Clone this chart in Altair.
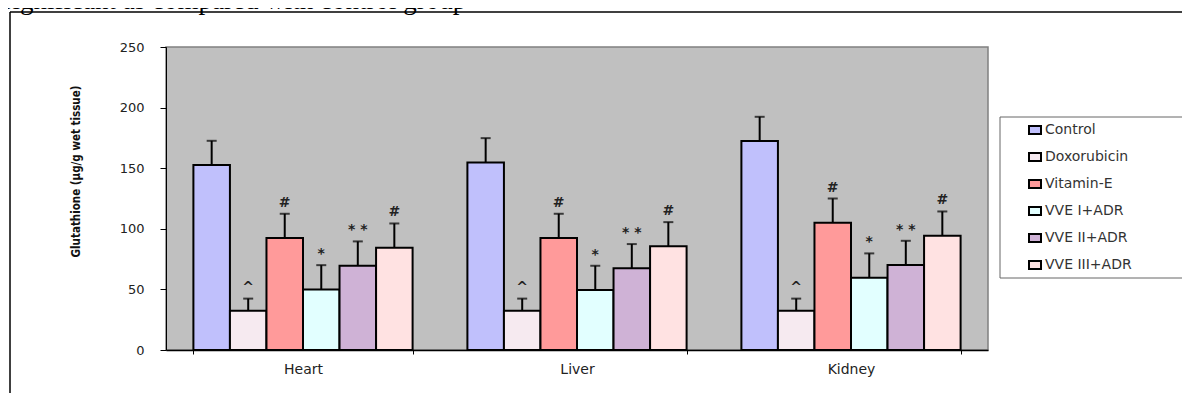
import altair as alt
import pandas as pd

tissues = ["Heart", "Liver", "Kidney"]
groups = ["Control", "Doxorubicin", "Vitamin-E", "VVE I+ADR", "VVE II+ADR", "VVE III+ADR"]
heart = [152.6, 32.4, 92.4, 50.0, 69.6, 84.4]
liver = [154.8, 32.4, 92.4, 49.5, 67.4, 85.5]
kidney = [172.4, 32.4, 105.0, 59.7, 70.1, 94.3]
heart_sd = [20, 10, 20, 20, 20, 20]
liver_sd = [20, 10, 20, 20, 20, 20]
kidney_sd = [20, 10, 20, 20, 20, 20]
marks = ["", "^", "#", "*", "* *", "#"]
colors = ["#c0c0fc", "#f6eaf0", "#ff9a9a", "#e2ffff", "#cfb2d6", "#ffe2e2"]
y_ticks = [0, 50, 100, 150, 200, 250]
title_text = "significant as compared with control group"

rows = []
for t, means, sds in zip(tissues, [heart, liver, kidney], [heart_sd, liver_sd, kidney_sd]):
    for g, m, s, a in zip(groups, means, sds, marks):
        rows.append({"tissue": t, "group": g, "mean": m, "sd": s, "ann": a})
df = pd.DataFrame(rows)

base = alt.Chart(df).transform_calculate(top="datum.mean + datum.sd")

x_enc = alt.X("tissue:N", sort=tissues,
              scale=alt.Scale(paddingInner=0.2, paddingOuter=0.1),
              axis=alt.Axis(title=None, labelAngle=0, tickBand="extent", tickSize=4,
                            labelPadding=8, labelFont="DejaVu Sans", labelFontSize=14,
                            labelColor="#222", domainColor="black", tickColor="black",
                            domainWidth=1.5))
xo = alt.XOffset("group:N", sort=groups)
y_scale = alt.Scale(domain=[0, 250], nice=False)

bars = base.mark_bar(stroke="black", strokeWidth=2).encode(
    x=x_enc,
    xOffset=xo,
    y=alt.Y("mean:Q", scale=y_scale,
            axis=alt.Axis(values=y_ticks, grid=False, tickSize=6, labelPadding=16,
                          labelFont="DejaVu Sans", labelFontSize=13, labelColor="#222",
                          domainColor="black", tickColor="black",
                          title="Glutathione  (µg/g wet tissue)",
                          titleFont="DejaVu Sans Condensed, Liberation Sans Narrow, Roboto Condensed, sans-serif",
                          titleFontSize=11.5,
                          titleFontWeight="bold", titleColor="#111",
                          titleAngle=270, titleX=-90, titleY=124,
                          titleAlign="center", titleBaseline="middle")),
    color=alt.Color("group:N", sort=groups,
                    scale=alt.Scale(domain=groups, range=colors),
                    legend=alt.Legend(title=None, orient="none", legendX=862, legendY=76,
                                      padding=0, rowPadding=9,
                                      symbolType="M-1,-0.67H1V0.67H-1Z", symbolSize=144,
                                      symbolStrokeColor="black", symbolStrokeWidth=2,
                                      labelFont="DejaVu Sans", labelFontSize=14,
                                      labelColor="#333", labelOffset=3)),
)

stems = base.mark_rule(color="black", strokeWidth=2).encode(
    x=alt.X("tissue:N", sort=tissues), xOffset=xo,
    y=alt.Y("mean:Q", scale=y_scale), y2="top:Q")

caps = base.mark_tick(color="black", thickness=2, size=10).encode(
    x=alt.X("tissue:N", sort=tissues), xOffset=xo,
    y=alt.Y("top:Q", scale=y_scale))

ann = base.mark_text(font="DejaVu Sans", fontSize=14, fontWeight="bold", color="#222",
                     baseline="alphabetic", dy=-7).encode(
    x=alt.X("tissue:N", sort=tissues), xOffset=xo,
    y=alt.Y("top:Q", scale=y_scale), text="ann:N")

one = alt.Data(values=[{"k": 1}])
legend_box = alt.Chart(one).mark_rect(fill="white", stroke="#666", strokeWidth=1).encode(
    x=alt.value(834), x2=alt.value(1017), y=alt.value(70), y2=alt.value(231))
frame_left = alt.Chart(one).mark_rule(color="black", strokeWidth=1.5).encode(
    x=alt.value(-156), y=alt.value(-35), y2=alt.value(360))
frame_top = alt.Chart(one).mark_rule(color="black", strokeWidth=1.5).encode(
    x=alt.value(-156), x2=alt.value(1030), y=alt.value(-35))
title = alt.Chart(one).mark_text(font="Liberation Serif", fontSize=27, align="left",
                                 baseline="alphabetic", color="black").encode(
    x=alt.value(-164), y=alt.value(-38), text=alt.value(title_text))

chart = alt.layer(legend_box, frame_left, frame_top, title, bars, stems, caps, ann).properties(
    width=822, height=303,
    autosize=alt.AutoSizeParams(type="none"),
    padding={"left": 158, "top": 39, "right": 194, "bottom": 43},
).configure_view(fill="#c0c0c0", stroke="#808080", strokeWidth=1.5)

chart.save("out.html", embed_options={"renderer": "svg", "actions": False})
